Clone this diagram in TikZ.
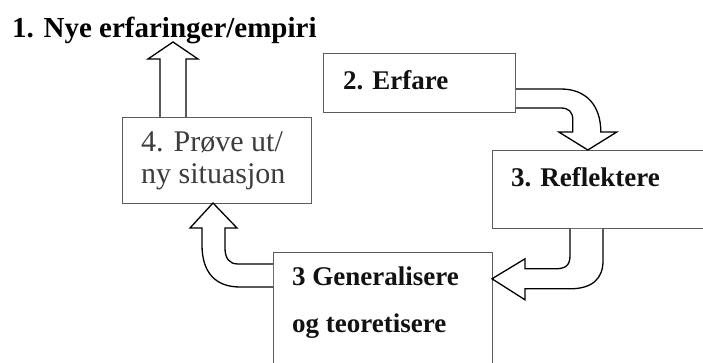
\documentclass[tikz,border=0pt]{standalone}
\usepackage{fontspec}
\setmainfont{Liberation Serif}
\usetikzlibrary{calc}

\definecolor{boxline}{rgb}{0.36,0.36,0.36}
\definecolor{softtext}{rgb}{0.24,0.24,0.24}
\definecolor{inktext}{rgb}{0.07,0.07,0.07}

\tikzset{
  stagebox/.style={draw=boxline, line width=0.8pt, fill=white, inner sep=0pt, anchor=north west},
  boldlabel/.style={anchor=base west, inner sep=0pt, text=inktext,
    font=\bfseries\fontsize{27}{32}\selectfont},
  plainlabel/.style={anchor=base west, inner sep=0pt, text=softtext,
    font=\fontsize{30}{34}\selectfont},
  blockarrow/.style={draw=black, line width=1.3pt, fill=white, line join=miter}
}

\begin{document}
\begin{tikzpicture}[x=1pt, y=-1pt]
  \clip (0,0) rectangle (703,363);

  % the four stages
  \node[stagebox, minimum width=192pt, minimum height=59pt] (erfare) at (323,53) {};
  \node[stagebox, minimum width=220pt, minimum height=78pt] (refl) at (492,150) {};
  \node[stagebox, minimum width=219pt, minimum height=130pt] (gen) at (273,252) {};
  \node[stagebox, minimum width=189pt, minimum height=86pt] (prove) at (122,117) {};

  % texts
  \node[anchor=base west, inner sep=0pt, text=black,
        font=\bfseries\fontsize{29}{34}\selectfont] (title) at (12,38) {1. Nye erfaringer/empiri};
  \node[boldlabel] (terfare) at (343,90) {2. Erfare};
  \node[boldlabel] (trefl) at (511,187) {3. Reflektere};
  \node[boldlabel] (tgen1) at (292,285) {3 Generalisere};
  \node[boldlabel] (tgen2) at (292,332) {og teoretisere};
  \node[plainlabel] (tprove1) at (141,152) {4. Prøve ut/};
  \node[plainlabel] (tprove2) at (141,184) {ny situasjon};

  % 4 -> 1 : straight block arrow up to the heading
  \begin{scope}[shift={(prove.north west)}]
    \filldraw[blockarrow] (38,0) -- (38,-58) -- (26,-58) -- (51,-75)
      -- (76,-58) -- (64,-58) -- (64,0);
  \end{scope}

  % 2 -> 3 : bent block arrow
  \begin{scope}[shift={(erfare.north east)}]
    \filldraw[blockarrow] (0,36) -- (45,36) .. controls (70,36) and (85,52) .. (85,79)
      -- (101,79) -- (72,97) -- (43,79) -- (57,79) -- (57,67)
      .. controls (57,59) and (53,55) .. (45,55) -- (0,55);
  \end{scope}

  % 3 -> generalisere : bent block arrow
  \begin{scope}[shift={(refl.south west)}]
    \filldraw[blockarrow] (78,0) -- (78,27) .. controls (78,37) and (73,40) .. (63,40)
      -- (33,40) -- (33,30) -- (0,50) -- (33,71) -- (33,60) -- (78,60)
      .. controls (100,60) and (111,50) .. (111,32) -- (111,0);
  \end{scope}

  % generalisere -> 4 : bent block arrow
  \begin{scope}[shift={(gen.north west)}]
    \filldraw[blockarrow] (0,12) -- (-35,12) .. controls (-44,12) and (-48,6) .. (-48,-4)
      -- (-48,-24) -- (-36,-24) -- (-60,-49) -- (-83,-24) -- (-71,-24) -- (-71,-7)
      .. controls (-71,20) and (-58,35) .. (-33,35) -- (0,35);
  \end{scope}
\end{tikzpicture}
\end{document}
